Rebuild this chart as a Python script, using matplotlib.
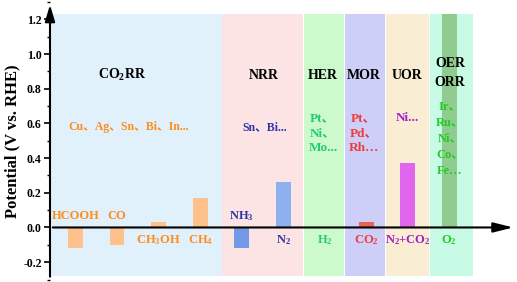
import matplotlib
matplotlib.use("Agg")
import matplotlib.pyplot as plt
from matplotlib.ticker import MultipleLocator

plt.rcParams.update({
    'font.family': ['Liberation Serif', 'Noto Sans CJK SC'],
    'font.weight': 'bold',
    'mathtext.fontset': 'custom',
    'mathtext.rm': 'Liberation Serif:bold',
    'mathtext.bf': 'Liberation Serif:bold',
    'mathtext.default': 'bf',
})

# reaction regions
regions = ['CO$_2$RR', 'NRR', 'HER', 'MOR', 'UOR', 'OER\nORR']
region_spans = [(0.39, 4.52), (4.54, 6.48), (6.51, 7.46), (7.49, 8.45), (8.49, 9.52), (9.54, 10.58)]
region_colors = ['#e1f1fb', '#fce4e4', '#cdfacd', '#cdcff8', '#f9edd3', '#c7fbe6']
region_text_colors = ['#ff8c1a', '#2e33a8', '#22cc77', '#f03c3c', '#a21fc6', '#22cc22']
catalysts = ['Cu、Ag、Sn、Bi、In...', 'Sn、Bi...', 'Pt、\nNi、\nMo...',
             'Pt、\nPd、\nRh…', 'Ni...', 'Ir、\nRu、\nNi、\nCo、\nFe…']

# products / potentials
products = ['HCOOH', 'CO', 'CH$_3$OH', 'CH$_4$', 'NH$_3$', 'N$_2$', 'H$_2$',
            'CO$_2$', 'N$_2$+CO$_2$', 'O$_2$']
product_region = [0, 0, 0, 0, 1, 1, 2, 3, 4, 5]
potentials = [-0.12, -0.10, 0.03, 0.17, -0.12, 0.26, 0.0, 0.03, 0.37, 1.23]
bar_colors = ['#ffc18c', '#ffc18c', '#ffc18c', '#ffc18c', '#7199e6', '#8eb0ef',
              '#cdfacd', '#e8645a', '#e066f0', '#90cc90']
yticks = [-0.2, 0.0, 0.2, 0.4, 0.6, 0.8, 1.0, 1.2]

fig = plt.figure(figsize=(5.17, 2.82), dpi=100)
ax = fig.add_axes([50 / 517, 2.5 / 282, 466 / 517, 277.5 / 282])
ax.set_xlim(0.386, 11.61)
ax.set_ylim(-0.3, 1.3)

for (a, b), c in zip(region_spans, region_colors):
    ax.fill_between([a, b], -0.28, 1.23, color=c, lw=0, zorder=0)

xs = list(range(1, len(products) + 1))
ax.bar(xs, potentials, width=0.36, color=bar_colors, zorder=1)

for x, v, name, r in zip(xs, potentials, products, product_region):
    y = 0.065 if v < 0 else -0.075
    ax.text(x, y, name, ha='center', va='center', fontsize=9, fontweight='bold',
            color=region_text_colors[r], zorder=3)

title_x = [2.12, 5.54, 6.96, 7.95, 8.99, 10.02]
title_y = [0.877, 0.877, 0.877, 0.877, 0.877, 0.89]
for tx, ty, t in zip(title_x, title_y, regions):
    ax.text(tx, ty, t, ha='center', va='center', fontsize=10, fontweight='bold',
            color='black', linespacing=1.65, zorder=3)

cat_x = [2.29, 5.57, 6.96, 7.95, 8.99, 10.02]
cat_y = [0.58, 0.58, 0.545, 0.545, 0.63, 0.515]
cat_ls = [1.0, 1.0, 1.3, 1.3, 1.0, 1.47]
cat_fs = [8.5, 8.5, 9.5, 9.5, 9.5, 9]
for i, (cx, cy, t) in enumerate(zip(cat_x, cat_y, catalysts)):
    ax.text(cx, cy, t, ha='center', va='center', fontsize=cat_fs[i], fontweight='bold',
            color=region_text_colors[i], linespacing=cat_ls[i], zorder=3)

# axes with arrows
for s in ax.spines.values():
    s.set_visible(False)
ax.annotate('', xy=(1, 0), xytext=(0, 0), xycoords=('axes fraction', 'data'),
            textcoords=('axes fraction', 'data'),
            arrowprops=dict(arrowstyle='-|>,head_length=1.2,head_width=0.3',
                            color='black', lw=1.5, mutation_scale=10), zorder=4)
ax.annotate('', xy=(0, 1), xytext=(0, 0), xycoords='axes fraction',
            arrowprops=dict(arrowstyle='-|>,head_length=1.0,head_width=0.3',
                            color='black', lw=1.5, mutation_scale=10), zorder=4)

ax.set_xticks([])
ax.set_yticks(yticks, [f'{t:.1f}' for t in yticks], fontweight='bold', fontsize=8.5)
ax.yaxis.set_minor_locator(MultipleLocator(0.1))
ax.tick_params(axis='y', which='major', direction='out', length=4, width=1.2, pad=2)
ax.tick_params(axis='y', which='minor', direction='out', length=2.5, width=1.0)
ax.set_ylabel('Potential (V vs. RHE)', fontsize=12, fontweight='bold', labelpad=2)

fig.savefig('out.png', dpi=100)
